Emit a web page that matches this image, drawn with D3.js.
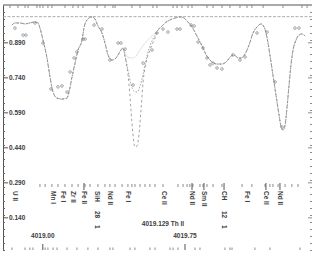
<!DOCTYPE html>
<html>
<head>
<meta charset="utf-8">
<script src="https://cdn.jsdelivr.net/npm/d3@7"></script>
<style>
  body { margin: 0; background: #fff; }
  svg { display: block; }
  text { font-family: "Liberation Sans", Arial, sans-serif; font-weight: bold; }
</style>
</head>
<body>
<svg id="chart" width="315" height="253"></svg>
<script>
// wavelength / normalised flux
var commonLeftWave = [4018.837, 4018.853, 4018.880, 4018.906, 4018.932, 4018.959, 4018.975, 4018.985, 4019.001, 4019.022, 4019.038, 4019.054, 4019.075, 4019.101, 4019.128, 4019.138, 4019.154, 4019.170, 4019.186, 4019.207, 4019.217, 4019.233, 4019.259, 4019.275, 4019.291, 4019.312, 4019.328, 4019.344, 4019.365, 4019.381, 4019.397, 4019.412, 4019.423];
var commonLeftFlux = [0.964, 0.973, 0.973, 0.969, 0.973, 0.977, 0.973, 0.951, 0.900, 0.823, 0.741, 0.677, 0.651, 0.647, 0.651, 0.677, 0.741, 0.801, 0.857, 0.900, 0.951, 0.986, 0.999, 0.990, 0.960, 0.930, 0.887, 0.836, 0.814, 0.819, 0.836, 0.857, 0.866];

var shallowWave = [4019.434, 4019.449, 4019.460, 4019.476, 4019.492, 4019.513, 4019.539, 4019.565, 4019.592, 4019.608];
var shallowFlux = [0.844, 0.827, 0.823, 0.823, 0.831, 0.857, 0.887, 0.909, 0.930, 0.943];

var middleWave = [4019.434, 4019.449, 4019.465, 4019.481, 4019.497, 4019.513, 4019.529, 4019.544, 4019.565, 4019.592, 4019.608];
var middleFlux = [0.831, 0.771, 0.711, 0.681, 0.677, 0.703, 0.754, 0.814, 0.874, 0.921, 0.943];

var deepWave = [4019.434, 4019.444, 4019.455, 4019.465, 4019.476, 4019.486, 4019.497, 4019.507, 4019.518, 4019.529, 4019.544, 4019.565, 4019.592, 4019.608];
var deepFlux = [0.827, 0.784, 0.707, 0.600, 0.493, 0.441, 0.446, 0.493, 0.600, 0.720, 0.801, 0.857, 0.909, 0.943];

var commonRightWave = [4019.629, 4019.645, 4019.671, 4019.697, 4019.724, 4019.745, 4019.761, 4019.787, 4019.813, 4019.840, 4019.866, 4019.892, 4019.919, 4019.945, 4019.972, 4019.993, 4020.009, 4020.030, 4020.045, 4020.067, 4020.088, 4020.109, 4020.130, 4020.151, 4020.167, 4020.183, 4020.198, 4020.214, 4020.230, 4020.246, 4020.256, 4020.267, 4020.278, 4020.288, 4020.299, 4020.309, 4020.320, 4020.336, 4020.351, 4020.367, 4020.383];
var commonRightFlux = [0.960, 0.973, 0.986, 0.994, 0.999, 0.994, 0.981, 0.956, 0.917, 0.874, 0.831, 0.806, 0.797, 0.797, 0.810, 0.831, 0.836, 0.823, 0.823, 0.840, 0.879, 0.930, 0.956, 0.969, 0.956, 0.909, 0.836, 0.750, 0.664, 0.579, 0.531, 0.514, 0.536, 0.609, 0.707, 0.793, 0.857, 0.900, 0.921, 0.926, 0.917];

var obsWave = [4018.853, 4018.896, 4018.911, 4018.959, 4019.001, 4019.043, 4019.080, 4019.101, 4019.128, 4019.144, 4019.165, 4019.180, 4019.212, 4019.223, 4019.270, 4019.312, 4019.354, 4019.397, 4019.412, 4019.434, 4019.476, 4019.529, 4019.576, 4019.602, 4019.634, 4019.660, 4019.708, 4019.724, 4019.782, 4019.798, 4019.819, 4019.845, 4019.866, 4019.882, 4019.898, 4019.919, 4019.945, 4020.003, 4020.040, 4020.067, 4020.130, 4020.183, 4020.225, 4020.262, 4020.330, 4020.351];
var obsFlux = [0.951, 0.921, 0.921, 0.973, 0.887, 0.690, 0.699, 0.703, 0.677, 0.763, 0.823, 0.849, 0.904, 0.904, 0.964, 0.947, 0.814, 0.887, 0.887, 0.861, 0.707, 0.801, 0.857, 0.930, 0.947, 0.934, 0.947, 0.947, 0.964, 0.960, 0.891, 0.866, 0.823, 0.793, 0.801, 0.780, 0.776, 0.836, 0.814, 0.827, 0.930, 0.934, 0.720, 0.527, 0.951, 0.951];

var yTickValues = [0.14, 0.29, 0.44, 0.59, 0.74, 0.89];
var xTickValues = [4019.00, 4019.75];
var xTickLabels = ["4019.00", "4019.75"];

var topTicks = [4018.827, 4018.869, 4018.906, 4018.922, 4018.969, 4018.985, 4019.001, 4019.027, 4019.048, 4019.117, 4019.159, 4019.186, 4019.212, 4019.286, 4019.328, 4019.370, 4019.381, 4019.470, 4019.513, 4019.581, 4019.602, 4019.687, 4019.708, 4019.734, 4019.766, 4019.787, 4019.866, 4019.898, 4019.945, 4019.987, 4020.040, 4020.077, 4020.103, 4020.162, 4020.267, 4020.367, 4020.394];
var bottomTicks = [4018.837, 4018.906, 4018.932, 4018.948, 4019.012, 4019.027, 4019.054, 4019.075, 4019.128, 4019.180, 4019.238, 4019.291, 4019.354, 4019.370, 4019.460, 4019.486, 4019.565, 4019.592, 4019.671, 4019.687, 4019.713, 4019.803, 4019.829, 4019.961, 4019.987, 4019.998, 4020.119, 4020.198, 4020.357];
var lineListTicks = [4018.985, 4019.012, 4019.048, 4019.080, 4019.117, 4019.154, 4019.186, 4019.223, 4019.249, 4019.291, 4019.328, 4019.354, 4019.381, 4019.418, 4019.449, 4019.470, 4019.486, 4019.513, 4019.539, 4019.565, 4019.592, 4019.634, 4019.713, 4019.740, 4019.761, 4019.776, 4019.792, 4019.829, 4019.845, 4019.866, 4019.898, 4019.945, 4020.051, 4020.103, 4020.172, 4020.198, 4020.214, 4020.241, 4020.278, 4020.314, 4020.346];

var lineIdWave = [4018.853, 4019.054, 4019.107, 4019.159, 4019.217, 4019.286, 4019.354, 4019.449, 4019.639, 4019.787, 4019.850, 4019.956, 4020.077, 4020.177, 4020.251];
var lineIdName = ["U II", "Mn I", "Fe I", "Zr II", "Fe II", "SiH", "Nd II", "Fe I", "Ce II", "Nd II", "Sm II", "CH", "Fe I", "Ce II", "Nd II"];
var lineIdExtra = ["", "", "", "", "", "28 1", "", "", "", "", "", "12 1", "", "", ""];
var lineIdLinked = [false, false, false, false, true, false, false, false, false, true, true, true, false, true, true];

var svg = d3.select("#chart");

var x = d3.scaleLinear().domain([4018.79, 4020.42]).range([3, 312]),
    y = d3.scaleLinear().domain([0, 1.05]).range([250, 5]);

var grey = "#8c8c8c", ink = "#3c3c3c";

// frame: top line + left axis
svg.append("line")
  .attr("x1", 3).attr("x2", 312).attr("y1", y(1.05)).attr("y2", y(1.05))
  .attr("stroke", "#555").attr("stroke-width", 1);

var minorY = d3.range(0, 1.05, 0.03);

svg.append("g")
  .attr("transform", "translate(3,0)")
  .call(d3.axisRight(y).tickValues(minorY).tickSize(2).tickSizeOuter(0).tickFormat(""))
  .call(function(g){ g.selectAll("line").attr("stroke", "#666"); g.select(".domain").attr("stroke", "#555"); });

svg.append("g")
  .attr("transform", "translate(3,0)")
  .call(d3.axisRight(y).tickValues(yTickValues).tickSize(5).tickPadding(1).tickFormat(d3.format(".3f")))
  .call(function(g){
    g.select(".domain").remove();
    g.selectAll("line").attr("stroke", "#555");
    g.selectAll("text").attr("fill", ink).style("font-size", "6.5px").style("font-family", "Liberation Sans, Arial, sans-serif").style("font-weight", "bold");
  });

// right side ticks only
svg.append("g")
  .attr("transform", "translate(312,0)")
  .call(d3.axisLeft(y).tickValues(minorY).tickSize(2).tickFormat(""))
  .call(function(g){ g.select(".domain").remove(); g.selectAll("line").attr("stroke", grey); });
svg.append("g")
  .attr("transform", "translate(312,0)")
  .call(d3.axisLeft(y).tickValues(yTickValues).tickSize(4).tickFormat(""))
  .call(function(g){ g.select(".domain").remove(); g.selectAll("line").attr("stroke", grey); });

// top and bottom wavelength ticks
svg.append("g").selectAll("line").data(topTicks).enter().append("line")
  .attr("x1", function(d){ return x(d); }).attr("x2", function(d){ return x(d); })
  .attr("y1", 5).attr("y2", 8).attr("stroke", grey);

svg.append("g").selectAll("line").data(bottomTicks).enter().append("line")
  .attr("x1", function(d){ return x(d); }).attr("x2", function(d){ return x(d); })
  .attr("y1", 250).attr("y2", 247.5).attr("stroke", grey);

svg.append("g").selectAll("line").data(xTickValues).enter().append("line")
  .attr("x1", function(d){ return x(d); }).attr("x2", function(d){ return x(d); })
  .attr("y1", 250).attr("y2", 244).attr("stroke", "#555");

svg.append("g").selectAll("text").data(xTickValues).enter().append("text")
  .attr("x", function(d){ return x(d); })
  .attr("y", 238)
  .attr("text-anchor", "middle")
  .attr("fill", ink)
  .style("font-size", "6.5px")
  .text(function(d, i){ return xTickLabels[i]; });

svg.append("text")
  .attr("x", 163).attr("y", 226)
  .attr("text-anchor", "middle")
  .attr("fill", ink)
  .style("font-size", "6.5px")
  .text("4019.129  Th II");

// continuum
svg.append("line")
  .attr("x1", 3).attr("x2", 312).attr("y1", y(1)).attr("y2", y(1))
  .attr("stroke", "#999").attr("stroke-dasharray", "3,1.5").attr("stroke-width", 0.8);

// synthetic spectra
var line = d3.line()
  .x(function(d){ return x(d[0]); })
  .y(function(d){ return y(d[1]); })
  .curve(d3.curveMonotoneX);

function joined(midW, midF){
  var w = commonLeftWave.concat(midW, commonRightWave),
      f = commonLeftFlux.concat(midF, commonRightFlux);
  return w.map(function(d, i){ return [d, f[i]]; });
}

svg.append("path")
  .datum(joined(shallowWave, shallowFlux))
  .attr("d", line).attr("fill", "none")
  .attr("stroke", "#b0b0b0").attr("stroke-width", 0.8).attr("stroke-dasharray", "1,1.2");

svg.append("path")
  .datum(joined(middleWave, middleFlux))
  .attr("d", line).attr("fill", "none")
  .attr("stroke", grey).attr("stroke-width", 0.8).attr("stroke-dasharray", "1.5,1.5");

svg.append("path")
  .datum(joined(deepWave, deepFlux))
  .attr("d", line).attr("fill", "none")
  .attr("stroke", grey).attr("stroke-width", 0.8).attr("stroke-dasharray", "2.5,2.5");

// observed points
svg.append("g").selectAll("circle").data(obsWave).enter().append("circle")
  .attr("cx", function(d){ return x(d); })
  .attr("cy", function(d, i){ return y(obsFlux[i]); })
  .attr("r", 1.3)
  .attr("fill", "none").attr("stroke", "#808080").attr("stroke-width", 0.7);

// line list
svg.append("g").selectAll("line").data(lineListTicks).enter().append("line")
  .attr("x1", function(d){ return x(d); }).attr("x2", function(d){ return x(d); })
  .attr("y1", 184).attr("y2", 187).attr("stroke", grey);

var ids = svg.append("g").selectAll("g").data(lineIdWave).enter().append("g")
  .attr("transform", function(d){ return "translate(" + x(d) + ",0)"; });

ids.filter(function(d, i){ return lineIdLinked[i]; })
  .append("line")
  .attr("x1", 0).attr("x2", 0).attr("y1", 183).attr("y2", 190)
  .attr("stroke", "#555");

ids.append("text")
  .attr("transform", "translate(0,191) rotate(90)")
  .attr("dy", "0.35em")
  .attr("fill", ink)
  .style("font-size", "6.5px")
  .text(function(d, i){ return lineIdName[i]; });

ids.filter(function(d, i){ return lineIdExtra[i] != ""; })
  .each(function(d){
    var i = lineIdWave.indexOf(d),
        parts = lineIdExtra[i].split(" "),
        g = d3.select(this);
    g.append("text").attr("transform", "translate(0,211) rotate(90)").attr("dy", "0.35em")
      .attr("fill", ink).style("font-size", "6.5px").text(parts[0]);
    g.append("text").attr("transform", "translate(0,225) rotate(90)").attr("dy", "0.35em")
      .attr("fill", ink).style("font-size", "6.5px").text(parts[1]);
  });
</script>
</body>
</html>
